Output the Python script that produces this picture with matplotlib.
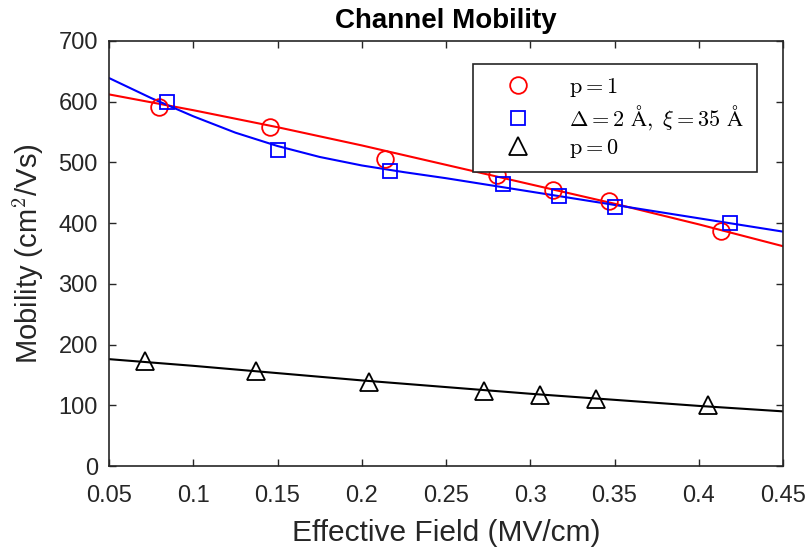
import matplotlib
matplotlib.use("Agg")
import matplotlib.pyplot as plt

field_p1 = [0.0797, 0.1457, 0.2135, 0.2800, 0.3133, 0.3466, 0.4130]
mob_p1 = [592, 558, 506, 480, 454, 436, 387]

field_rough = [0.0845, 0.1500, 0.2170, 0.2836, 0.3170, 0.3500, 0.4186]
mob_rough = [599, 520, 486, 464, 444, 427, 401]

field_p0 = [0.0714, 0.1370, 0.2040, 0.2723, 0.3056, 0.3390, 0.4056]
mob_p0 = [173, 156, 139, 124, 117, 111, 101]

# fitted curves
fit_x = [0.05, 0.075, 0.1, 0.125, 0.15, 0.175, 0.2, 0.225, 0.25, 0.275,
         0.3, 0.325, 0.35, 0.375, 0.4, 0.425, 0.45]
fit_p1 = [612, 599, 586, 572, 558, 543, 528, 512, 496, 480,
          464, 448, 432, 415, 398, 380, 362]
fit_rough = [639, 606, 576, 549, 527, 509, 495, 484, 474, 463,
             452, 441, 430, 419, 408, 397, 386]
fit_p0 = [176, 170.5, 165, 159, 153, 147, 141, 135.5, 130, 124.5,
          119, 114, 109, 104, 99, 94.5, 90]

xticks = [0.05, 0.1, 0.15, 0.2, 0.25, 0.3, 0.35, 0.4, 0.45]
xticklabels = ['0.05', '0.1', '0.15', '0.2', '0.25', '0.3', '0.35', '0.4', '0.45']
yticks = [0, 100, 200, 300, 400, 500, 600, 700]

plt.rcParams['font.family'] = ['Liberation Sans', 'DejaVu Sans']
plt.rcParams['mathtext.fontset'] = 'cm'

fig = plt.figure(figsize=(8.08, 5.5), dpi=100)
ax = fig.add_axes([0.1349, 0.1527, 0.8342, 0.7728])

lw = 1.5
ax.plot(fit_x, fit_p1, color='red', lw=lw)
ax.plot(fit_x, fit_rough, color='blue', lw=lw)
ax.plot(fit_x, fit_p0, color='black', lw=lw)

ax.plot(field_p1, mob_p1, 'o', ls='none', ms=12, mfc='none', mec='red', mew=1.3,
        label=r'$\mathrm{p}=1$')
ax.plot(field_rough, mob_rough, 's', ls='none', ms=10.5, mfc='none', mec='blue', mew=1.3,
        label=r'$\Delta=2\ \mathrm{\AA},\ \xi=35\ \mathrm{\AA}$')
ax.plot(field_p0, mob_p0, '^', ls='none', ms=13, mfc='none', mec='black', mew=1.3,
        label=r'$\mathrm{p}=0$')

ax.set_xlim(0.05, 0.45)
ax.set_ylim(0, 700)
ax.set_xticks(xticks)
ax.set_xticklabels(xticklabels)
ax.set_yticks(yticks)

ax.tick_params(direction='in', length=5, width=1.0, top=True, right=True,
               labelsize=17, colors='#262626')
ax.tick_params(axis='x', pad=14)
ax.tick_params(axis='y', pad=8)
for s in ax.spines.values():
    s.set_color('#262626')
    s.set_linewidth(1.2)

ax.set_xlabel('Effective Field (MV/cm)', fontsize=21.5, color='#262626', labelpad=8)
ax.set_ylabel(r'Mobility (cm$^2$/Vs)', fontsize=21, color='#262626', labelpad=9)
ax.set_title('Channel Mobility', fontsize=20, fontweight='bold', pad=9)

leg = ax.legend(loc='upper right', bbox_to_anchor=(0.961, 0.946), borderaxespad=0,
                fontsize=16, handletextpad=0.8, handlelength=3.0, borderpad=0.55,
                labelspacing=0.2, fancybox=False, framealpha=1)
leg.get_frame().set_edgecolor('#262626')
leg.get_frame().set_linewidth(1.2)

fig.savefig('out.png', dpi=100)
